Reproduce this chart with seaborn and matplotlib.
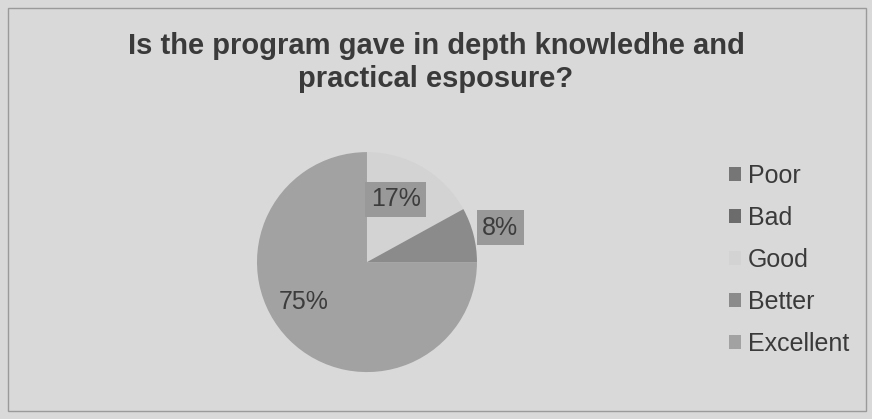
import numpy as np
import matplotlib
matplotlib.use('Agg')
import matplotlib.pyplot as plt
from matplotlib.patches import Patch, Rectangle
import seaborn as sns

# ── data ──
categories = ['Poor', 'Bad', 'Good', 'Better', 'Excellent']
shares = [0, 0, 17, 8, 75]
colors = ['#767676', '#6c6c6c', '#d3d3d3', '#8b8b8b', '#a2a2a2']
title = "Is the program gave in depth knowledhe and\npractical esposure?"

sns.set_theme(style='white')
plt.rcParams['font.family'] = ['Liberation Sans', 'DejaVu Sans']

fig = plt.figure(figsize=(8.72, 4.19), dpi=100, facecolor='#d9d9d9')
fig.patches.append(Rectangle((0.009, 0.02), 0.984, 0.962, transform=fig.transFigure,
                             fill=False, edgecolor='#9a9a9a', linewidth=1))

ax = fig.add_axes([0.2947, 0.112, 0.2523, 0.525])
wedges, _ = ax.pie(shares, colors=colors, startangle=90, counterclock=False,
                   wedgeprops={'linewidth': 0})
ax.set_xlim(-1, 1)
ax.set_ylim(-1, 1)
ax.set_aspect('equal')

# percentage labels (distance from centre, angle shift, boxed?)
label_style = {'Good': (0.63, 6, True), 'Better': (1.25, 0, True), 'Excellent': (0.68, -13, False)}
for w, cat, val in zip(wedges, categories, shares):
    if val == 0:
        continue
    r, shift, boxed = label_style[cat]
    ang = np.deg2rad((w.theta1 + w.theta2) / 2 + shift)
    box = dict(boxstyle='square,pad=0.22', facecolor='#999999', edgecolor='none') if boxed else None
    ax.text(r * np.cos(ang), r * np.sin(ang), f'{val}%', ha='center', va='center',
            fontsize=18, color='#3c3c3c', bbox=box)

fig.text(0.5, 0.85, title, ha='center', va='center', fontsize=21,
         fontweight='bold', color='#3a3a3a', linespacing=1.22)

handles = [Patch(facecolor=c, edgecolor='none') for c in colors]
fig.legend(handles, categories, loc='center left', bbox_to_anchor=(0.81, 0.38),
           frameon=False, fontsize=18, handlelength=0.5, handleheight=0.5,
           handletextpad=0.25, labelspacing=0.72, labelcolor='#3a3a3a')

plt.savefig('out.png', dpi=100, facecolor=fig.get_facecolor())
